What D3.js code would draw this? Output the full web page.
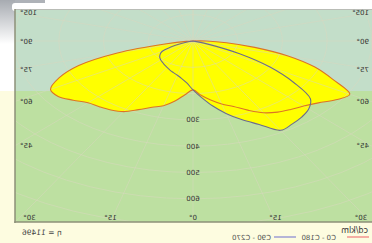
<!DOCTYPE html>
<html><head><meta charset="utf-8">
<script src="https://cdn.jsdelivr.net/npm/d3@7"></script>
<style>html,body{margin:0;padding:0;background:#fff;overflow:hidden}svg{display:block}</style>
</head><body>
<svg id="c" width="372" height="243"></svg>
<script>
// ---- data (cd/klm per gamma angle) ----
const gammaDeg = [0,5,10,15,20,25,30,35,40,45,50,55,60,65,70,75,80,85,90];
const c0   = [186,205,232,255,268,288,310,320,326,332,350,368,368,330,272,175,60,15,0];
const c180 = [186,207,228,248,265,290,315,330,340,350,366,390,405,345,290,220,140,75,30];
const c90  = [186,215,250,285,318,350,392,386,378,366,343,275,200,115,40,5,0,0,0];
const c270 = [186,160,145,135,128,122,116,111,106,102,97,90,80,55,28,8,0,0,0];
const radialTicks = [300,400,500,600];
const gridCircles = [100,200,300,400,500,600,700,800];
const gridRays = d3.range(-180,181,15);
const sideAngleLabels = [45,60,75,90,105];
const bottomAngleLabels = [-30,-15,0,15,30];
const legendNames = ["C0 - C180","C90 - C270"];
const unitLabel = "cd/klm";
const etaLabel = "η = 11496";

// ---- layout ----
const W=372,H=243;
const cx=179, cy=41, pxPerUnit=0.263, sx=1.7;
const frame={left:-2,right:357,top:9,bottom:222};
const FONT="DejaVu Sans, Verdana, sans-serif";

const yS=d3.scaleLinear().domain([0,1000]).range([cy,cy+1000*pxPerUnit]);
const xS=d3.scaleLinear().domain([-1000,1000]).range([cx-1000*pxPerUnit*sx,cx+1000*pxPerUnit*sx]);
function pt(I,g){const r=g*Math.PI/180;return [xS(I*Math.sin(r)),yS(I*Math.cos(r))];}

const svg=d3.select("#c");
const defs=svg.append("defs");
const gr=defs.append("linearGradient").attr("id","shade").attr("x1",0).attr("y1",0).attr("x2",0).attr("y2",1);
gr.append("stop").attr("offset","0%").attr("stop-color","#a7abb1");
gr.append("stop").attr("offset","100%").attr("stop-color","#ffffff");
defs.append("clipPath").attr("id","fr").append("rect")
  .attr("x",frame.left).attr("y",frame.top).attr("width",frame.right-frame.left).attr("height",frame.bottom-frame.top);

// mirrored as in the reference
const g=svg.append("g").attr("transform",`translate(${W},0) scale(-1,1)`);

// page background
g.append("rect").attr("x",0).attr("y",0).attr("width",W).attr("height",H).attr("fill","#ffffff");
g.append("rect").attr("x",0).attr("y",91).attr("width",W).attr("height",H-91).attr("fill","#fdfce0");
// corner shading
g.append("rect").attr("x",327).attr("y",0).attr("width",45).attr("height",13).attr("fill","#aeb2b8");
g.append("rect").attr("x",357).attr("y",0).attr("width",15).attr("height",44).attr("fill","url(#shade)");
g.append("rect").attr("x",-10).attr("y",3).attr("width",370).attr("height",8).attr("rx",3).attr("fill","#ffffff");

// plot area
g.append("rect").attr("x",frame.left).attr("y",frame.top).attr("width",frame.right-frame.left).attr("height",91-frame.top).attr("fill","#c3dec9");
g.append("rect").attr("x",frame.left).attr("y",91).attr("width",frame.right-frame.left).attr("height",frame.bottom-91).attr("fill","#bde0a1");

function shape(pos,neg){
  const pts=[[cx,cy]];
  for(let i=gammaDeg.length-1;i>=0;i--) if(neg[i]>0) pts.push(pt(neg[i],-gammaDeg[i]));
  for(let i=1;i<gammaDeg.length;i++) if(pos[i]>0) pts.push(pt(pos[i],gammaDeg[i]));
  pts.push([cx,cy]);
  return pts;
}
const line=d3.line().curve(d3.curveCatmullRom.alpha(0.5));
const shapeA=shape(c0,c180), shapeB=shape(c270,c90);

const plot=g.append("g").attr("clip-path","url(#fr)");
plot.selectAll("path.fill").data([shapeA,shapeB]).join("path").attr("class","fill")
  .attr("d",d=>line(d)+"Z").attr("fill","#ffff00");

// grid
const grid=plot.append("g").attr("stroke","#d9d8c0").attr("stroke-opacity",0.5).attr("fill","none").attr("stroke-width",1);
grid.selectAll("line").data(gridRays).join("line")
  .attr("x1",cx).attr("y1",cy).attr("x2",d=>pt(3000,d)[0]).attr("y2",d=>pt(3000,d)[1]);
grid.selectAll("ellipse").data(gridCircles).join("ellipse")
  .attr("cx",cx).attr("cy",cy).attr("rx",d=>xS(d)-cx).attr("ry",d=>yS(d)-cy);

// outlines
const plotColors=["#dc7426","#6c6c8e"];
plot.append("path").attr("d",line(shapeA)).attr("fill","none").attr("stroke",plotColors[0]).attr("stroke-width",1.1);
plot.append("path").attr("d",line(shapeB)).attr("fill","none").attr("stroke",plotColors[1]).attr("stroke-width",1.1);

// frame border
g.append("line").attr("x1",frame.left).attr("x2",frame.right).attr("y1",frame.top+0.5).attr("y2",frame.top+0.5).attr("stroke","#b9bcb6").attr("stroke-width",1);
g.append("line").attr("x1",frame.right).attr("x2",frame.right).attr("y1",frame.top).attr("y2",frame.bottom+1).attr("stroke","#8d9079").attr("stroke-width",1.5);
g.append("line").attr("x1",frame.left).attr("x2",frame.right+0.75).attr("y1",frame.bottom).attr("y2",frame.bottom).attr("stroke","#8d9079").attr("stroke-width",1.5);

// radial tick labels
g.selectAll("text.rad").data(radialTicks).join("text").attr("class","rad")
  .attr("x",cx).attr("y",d=>yS(d)+2.5).attr("text-anchor","middle")
  .attr("font-family",FONT).attr("font-size",7).attr("fill","#333").text(d=>d);

// side angle labels
const halfTrue=(frame.right-cx)/sx;
const sideData=[];
sideAngleLabels.forEach(a=>{const y=cy+halfTrue/Math.tan(a*Math.PI/180);sideData.push({a,y,side:1},{a,y,side:-1});});
g.selectAll("text.side").data(sideData).join("text").attr("class","side")
  .attr("x",d=>d.side>0?frame.right-5:frame.left+5).attr("y",d=>d.y+2.5)
  .attr("text-anchor",d=>d.side>0?"end":"start")
  .attr("font-family",FONT).attr("font-size",7).attr("fill","#333").text(d=>d.a+"°");

// bottom angle labels
g.selectAll("text.bot").data(bottomAngleLabels).join("text").attr("class","bot")
  .attr("x",d=>{const x=cx+sx*(frame.bottom-cy)*Math.tan(d*Math.PI/180);return Math.max(frame.left+13,Math.min(frame.right-14.5,x));})
  .attr("y",frame.bottom-2).attr("text-anchor","middle")
  .attr("font-family",FONT).attr("font-size",7).attr("fill","#333").text(d=>Math.abs(d)+"°");

// legend
g.append("text").attr("x",4).attr("y",233).attr("font-family",FONT).attr("font-size",8).attr("fill","#333").text(unitLabel);
const legColors=["#f07a7a","#8686d0"];
const legX=[3,76];
legendNames.forEach((n,i)=>{
  g.append("line").attr("x1",legX[i]).attr("x2",legX[i]+22).attr("y1",237).attr("y2",237)
   .attr("stroke",legColors[i]).attr("stroke-width",1.2);
  g.append("text").attr("x",legX[i]+(i?25:33)).attr("y",239.5).attr("font-family",FONT).attr("font-size",7).attr("fill","#555").text(n);
});
g.append("text").attr("x",350).attr("y",235).attr("text-anchor","end").attr("font-family",FONT).attr("font-size",7.5).attr("fill","#444").text(etaLabel);
</script>
</body></html>
